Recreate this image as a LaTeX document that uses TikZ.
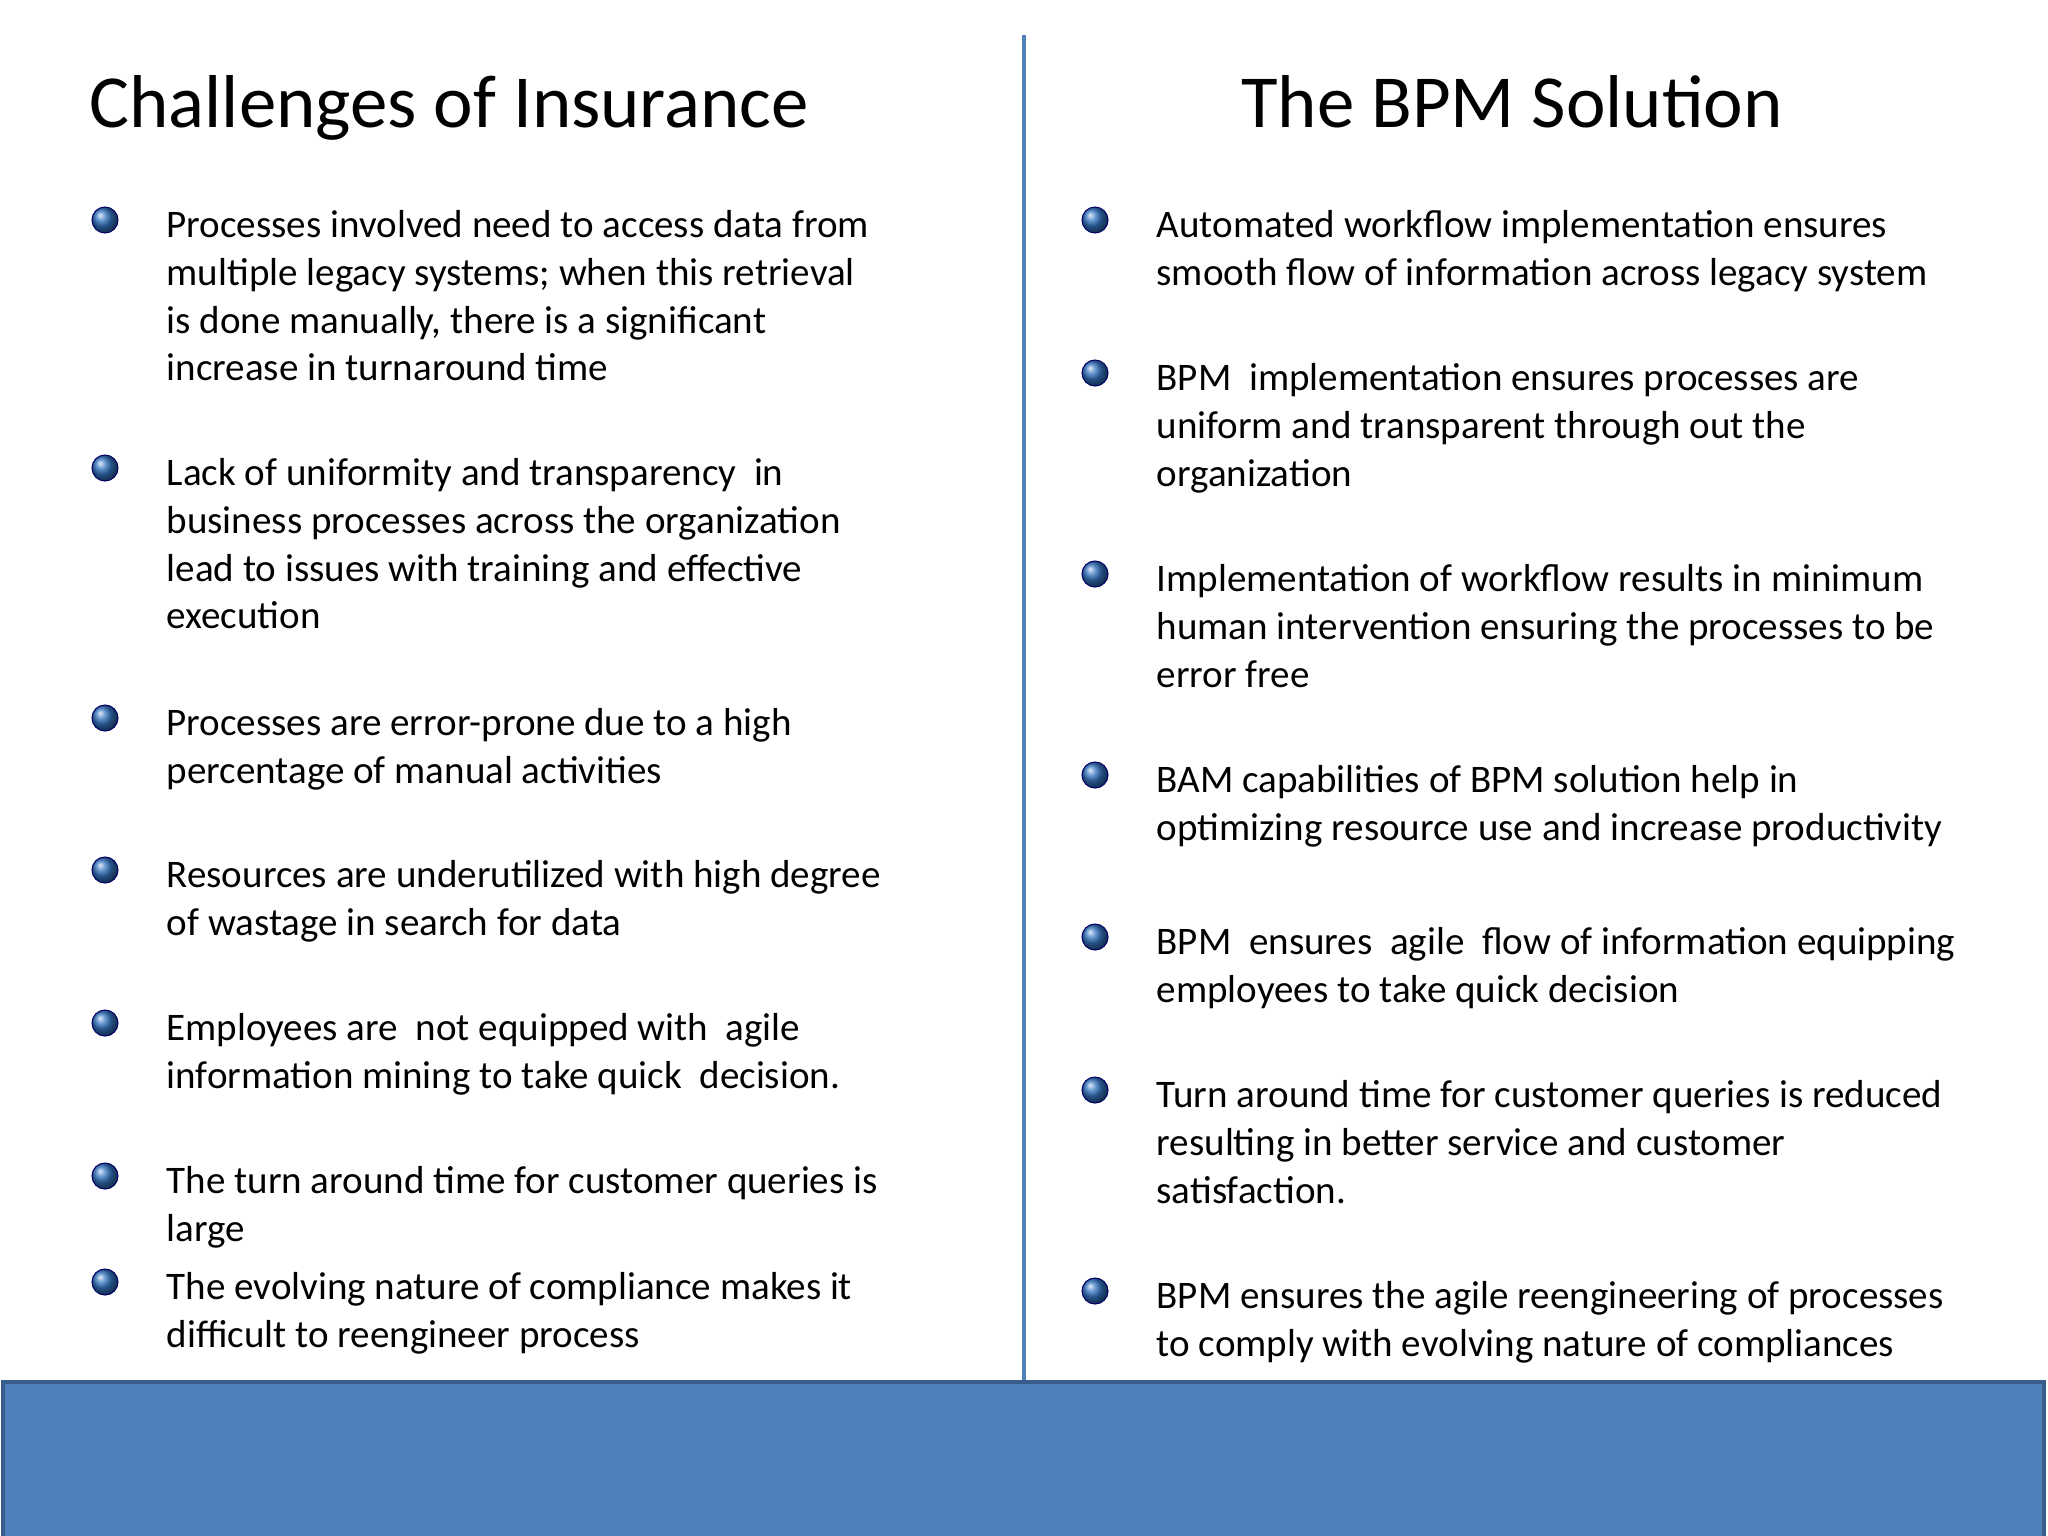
\documentclass[tikz,border=0pt]{standalone}
\usepackage{fontspec}
\setmainfont{Carlito}
\begin{document}
\begin{tikzpicture}[x=0.01cm,y=-0.01cm,
  txt/.style={anchor=north west,inner sep=0,align=left,font=\fontsize{11.1}{13.57}\selectfont},
  ttl/.style={anchor=base,inner sep=0,font=\fontsize{21.3}{25}\selectfont},
  bul/.style={circle,minimum size=0.26cm,inner sep=0,draw=blue!40!black,line width=0.3pt,ball color={rgb,1:red,0.2;green,0.45;blue,0.75}}]
\useasboundingbox (0,0) rectangle (2048,1536);
\fill[white] (0,0) rectangle (2048,1536);
\draw[draw={rgb,255:red,79;green,129;blue,189},line width=1.2pt] (1024,35) coordinate (vt) -- (1024,1380) coordinate (vb);
\node[draw={rgb,255:red,56;green,93;blue,138},line width=1.2pt,fill={rgb,255:red,79;green,129;blue,189},minimum width=20.4cm,minimum height=1.56cm,inner sep=0,anchor=north west] (bar) at (1,1380) {};
\node[ttl,anchor=base west] (tl) at (89,127) {Challenges of Insurance};
\node[ttl] (tr) at (1512,127) {The BPM Solution};
\newcommand{\itm}[4]{\node[bul] (b#1) at (#2,#3-17) {};\node[txt] (t#1) at (#2+61,#3-33.4) {\strut #4};}
\itm{l1}{105}{237}{Processes involved need to access data from\\multiple legacy systems; when this retrieval\\is done manually, there is a significant\\increase in turnaround time}
\itm{l2}{105}{485}{Lack of uniformity and transparency\ \ in\\business processes across the organization\\lead to issues with training and effective\\execution}
\itm{l3}{105}{735}{Processes are error-prone due to a high\\percentage of manual activities}
\itm{l4}{105}{887}{Resources are underutilized with high degree\\of wastage in search for data}
\itm{l5}{105}{1040}{Employees are\ \ not equipped with\ \ agile\\information mining to take quick\ \ decision.}
\itm{l6}{105}{1193}{The turn around time for customer queries is\\large}
\itm{l7}{105}{1299}{The evolving nature of compliance makes it\\difficult to reengineer process}
\itm{r1}{1095}{237}{Automated workflow implementation ensures\\smooth flow of information across legacy system}
\itm{r2}{1095}{390}{BPM\ \ implementation ensures processes are\\uniform and transparent through out the\\organization}
\itm{r3}{1095}{591}{Implementation of workflow results in minimum\\human intervention ensuring the processes to be\\error free}
\itm{r4}{1095}{792}{BAM capabilities of BPM solution help in\\optimizing resource use and increase productivity}
\itm{r5}{1095}{954}{BPM\ \ ensures\ \ agile\ \ flow of information equipping\\employees to take quick decision}
\itm{r6}{1095}{1107}{Turn around time for customer queries is reduced\\resulting in better service and customer\\satisfaction.}
\itm{r7}{1095}{1308}{BPM ensures the agile reengineering of processes\\to comply with evolving nature of compliances}
\end{tikzpicture}
\end{document}
